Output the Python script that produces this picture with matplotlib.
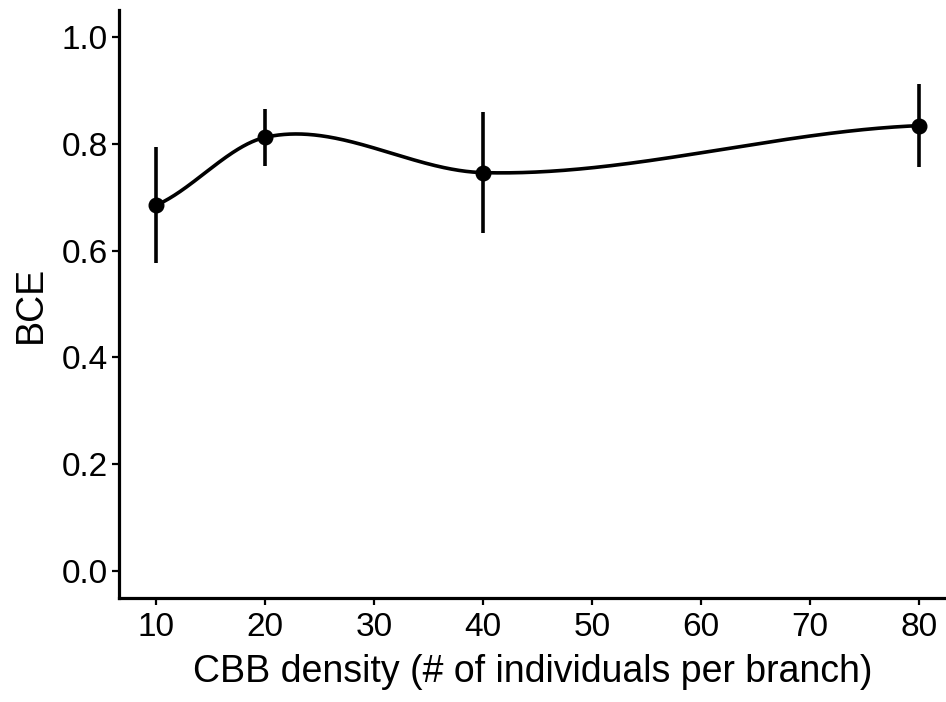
import numpy as np
import matplotlib
matplotlib.use('Agg')
import matplotlib.pyplot as plt

density = [10, 20, 40, 80]
bce = [0.685, 0.812, 0.746, 0.834]
bce_low = [0.576, 0.758, 0.633, 0.757]
bce_high = [0.794, 0.866, 0.860, 0.912]


def smooth_curve(x, y, n=400):
    # cubic hermite through the points, tangents from averaged secants
    x = np.asarray(x, float)
    y = np.asarray(y, float)
    sec = np.diff(y) / np.diff(x)
    m = np.empty(len(x))
    m[1:-1] = (sec[:-1] + sec[1:]) / 2
    m[0] = (sec[0] + m[1]) / 2
    m[-1] = (sec[-1] + m[-2]) / 2
    xs, ys = [], []
    for i in range(len(x) - 1):
        h = x[i + 1] - x[i]
        t = np.linspace(0, 1, n)
        h00 = 2 * t**3 - 3 * t**2 + 1
        h10 = t**3 - 2 * t**2 + t
        h01 = -2 * t**3 + 3 * t**2
        h11 = t**3 - t**2
        xs.append(x[i] + t * h)
        ys.append(h00 * y[i] + h10 * h * m[i] + h01 * y[i + 1] + h11 * h * m[i + 1])
    return np.concatenate(xs), np.concatenate(ys)


plt.rcParams['font.family'] = ['Liberation Sans', 'DejaVu Sans']

fig = plt.figure(figsize=(9.46, 7.02), dpi=100)
ax = fig.add_axes([0.1258, 0.1481, 0.8742, 0.8377])

cx, cy = smooth_curve(density, bce)
ax.plot(cx, cy, color='black', lw=2.6)
err = [np.array(bce) - np.array(bce_low), np.array(bce_high) - np.array(bce)]
ax.errorbar(density, bce, yerr=err, fmt='o', color='black', ms=10.5,
            elinewidth=2.6, capsize=0)

ax.set_xlim(6.6, 82.48)
ax.set_ylim(-0.0506, 1.0506)
ax.set_xticks([10, 20, 30, 40, 50, 60, 70, 80])
ax.set_yticks([0.0, 0.2, 0.4, 0.6, 0.8, 1.0])
ax.set_yticklabels(['0.0', '0.2', '0.4', '0.6', '0.8', '1.0'])

for s in ['top', 'right']:
    ax.spines[s].set_visible(False)
for s in ['left', 'bottom']:
    ax.spines[s].set_linewidth(2.3)

ax.tick_params(axis='both', labelsize=24, width=1.6, length=5, direction='out',
               colors='black')
ax.tick_params(axis='x', pad=5)
ax.tick_params(axis='y', pad=3)

ax.set_xlabel('CBB density (# of individuals per branch)', fontsize=27, labelpad=8)
ax.set_ylabel('BCE', fontsize=27, labelpad=9)

fig.savefig('out.png', dpi=100)
